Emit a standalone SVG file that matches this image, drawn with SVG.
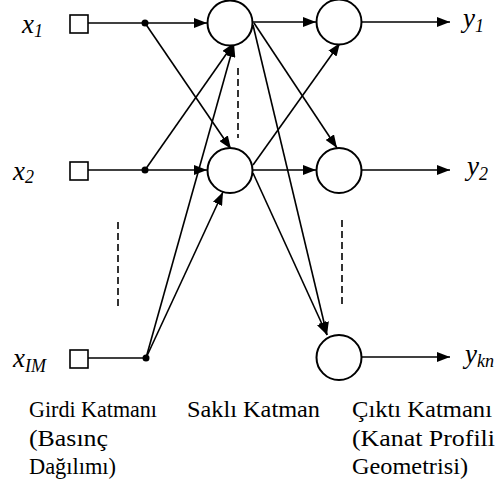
<svg xmlns="http://www.w3.org/2000/svg" width="500" height="487" viewBox="0 0 500 487">
  <defs>
    <marker id="arrow" viewBox="0 0 13 10" refX="13" refY="5" markerWidth="13" markerHeight="10" markerUnits="userSpaceOnUse" orient="auto">
      <path d="M0,0 L13,5 L0,10 Z" fill="#000"/>
    </marker>
    <style>
      .neuron { fill: #fff; stroke: #000; stroke-width: 2; }
      .input { fill: #fff; stroke: #000; stroke-width: 1.6; }
      .link { fill: none; stroke: #000; stroke-width: 1.6; }
      .arr { marker-end: url(#arrow); }
      .dot { fill: #000; }
      .dash { fill: none; stroke: #000; stroke-width: 1.6; stroke-dasharray: 7 4; }
      text { font-family: 'Liberation Serif', 'DejaVu Serif', serif; fill: #000; }
      .var { font-style: italic; font-size: 27px; }
      .sub { font-size: 18px; }
      .cap { font-size: 24px; }
    </style>
  </defs>
  <rect width="500" height="487" fill="#fff"/>

  <!-- connections -->
  <g id="connectors">
    <!-- input lines to branch points -->
    <line class="link" x1="88" y1="23" x2="145" y2="23"/>
    <line class="link" x1="88" y1="170" x2="145" y2="170"/>
    <line class="link" x1="88" y1="358" x2="146" y2="358"/>
    <!-- input layer to hidden layer -->
    <line class="link arr" x1="145" y1="23" x2="207" y2="23"/>
    <line class="link arr" x1="145" y1="23" x2="231" y2="149"/>
    <line class="link arr" x1="145" y1="170" x2="234" y2="43"/>
    <line class="link arr" x1="145" y1="170" x2="207" y2="170"/>
    <line class="link arr" x1="146" y1="358" x2="234" y2="44"/>
    <line class="link arr" x1="146" y1="358" x2="223" y2="192"/>
    <!-- hidden layer to output layer -->
    <line class="link arr" x1="253" y1="22" x2="316" y2="22"/>
    <line class="link arr" x1="254" y1="23" x2="337" y2="148"/>
    <line class="link arr" x1="253" y1="25" x2="327" y2="335"/>
    <line class="link arr" x1="253" y1="165" x2="340" y2="43"/>
    <line class="link arr" x1="253" y1="170" x2="316" y2="170"/>
    <line class="link arr" x1="253" y1="173" x2="327" y2="335"/>
    <!-- outputs -->
    <line class="link arr" x1="362" y1="22" x2="450" y2="22"/>
    <line class="link arr" x1="362" y1="170" x2="450" y2="170"/>
    <line class="link arr" x1="362" y1="357" x2="450" y2="357"/>
    <!-- branch points -->
    <circle class="dot" cx="145" cy="23" r="3.5"/>
    <circle class="dot" cx="145" cy="170" r="3.5"/>
    <circle class="dot" cx="146" cy="358" r="3.5"/>
    <!-- ellipsis marks -->
    <line class="dash" x1="118" y1="222" x2="118" y2="307"/>
    <line class="dash" x1="238" y1="68" x2="238" y2="138"/>
    <line class="dash" x1="342" y1="220" x2="342" y2="306"/>
  </g>

  <!-- input layer -->
  <g id="input-1">
    <rect class="input" x="70" y="15" width="18" height="18"/>
    <text class="var" x="22" y="33">x<tspan class="sub" dy="4">1</tspan></text>
  </g>
  <g id="input-2">
    <rect class="input" x="70" y="162" width="18" height="18"/>
    <text class="var" x="13" y="180">x<tspan class="sub" dy="3">2</tspan></text>
  </g>
  <g id="input-im">
    <rect class="input" x="70" y="350" width="18" height="18"/>
    <text class="var" x="13" y="367">x<tspan class="sub" dy="5">IM</tspan></text>
  </g>

  <!-- hidden layer -->
  <g id="hidden-1">
    <circle class="neuron" cx="230" cy="23" r="22.5"/>
  </g>
  <g id="hidden-2">
    <circle class="neuron" cx="230" cy="170.5" r="22.5"/>
  </g>

  <!-- output layer -->
  <g id="output-1">
    <circle class="neuron" cx="339" cy="22" r="22.5"/>
    <text class="var" x="463" y="27">y<tspan class="sub" dy="5">1</tspan></text>
  </g>
  <g id="output-2">
    <circle class="neuron" cx="339" cy="170.5" r="22.5"/>
    <text class="var" x="467" y="175">y<tspan class="sub" dy="5">2</tspan></text>
  </g>
  <g id="output-kn">
    <circle class="neuron" cx="339" cy="357.5" r="22.5"/>
    <text class="var" x="465" y="363">y<tspan class="sub" dy="4">kn</tspan></text>
  </g>

  <!-- layer captions -->
  <g id="captions">
    <text class="cap" x="29" y="417" textLength="128" lengthAdjust="spacingAndGlyphs">Girdi Katmanı</text>
    <text class="cap" x="29" y="446" textLength="79" lengthAdjust="spacingAndGlyphs">(Basınç</text>
    <text class="cap" x="29" y="474" textLength="87" lengthAdjust="spacingAndGlyphs">Dağılımı)</text>
    <text class="cap" x="187" y="417" textLength="133" lengthAdjust="spacingAndGlyphs">Saklı Katman</text>
    <text class="cap" x="352" y="417" textLength="140" lengthAdjust="spacingAndGlyphs">Çıktı Katmanı</text>
    <text class="cap" x="352" y="446" textLength="143" lengthAdjust="spacingAndGlyphs">(Kanat Profili</text>
    <text class="cap" x="352" y="474" textLength="116" lengthAdjust="spacingAndGlyphs">Geometrisi)</text>
  </g>
</svg>
